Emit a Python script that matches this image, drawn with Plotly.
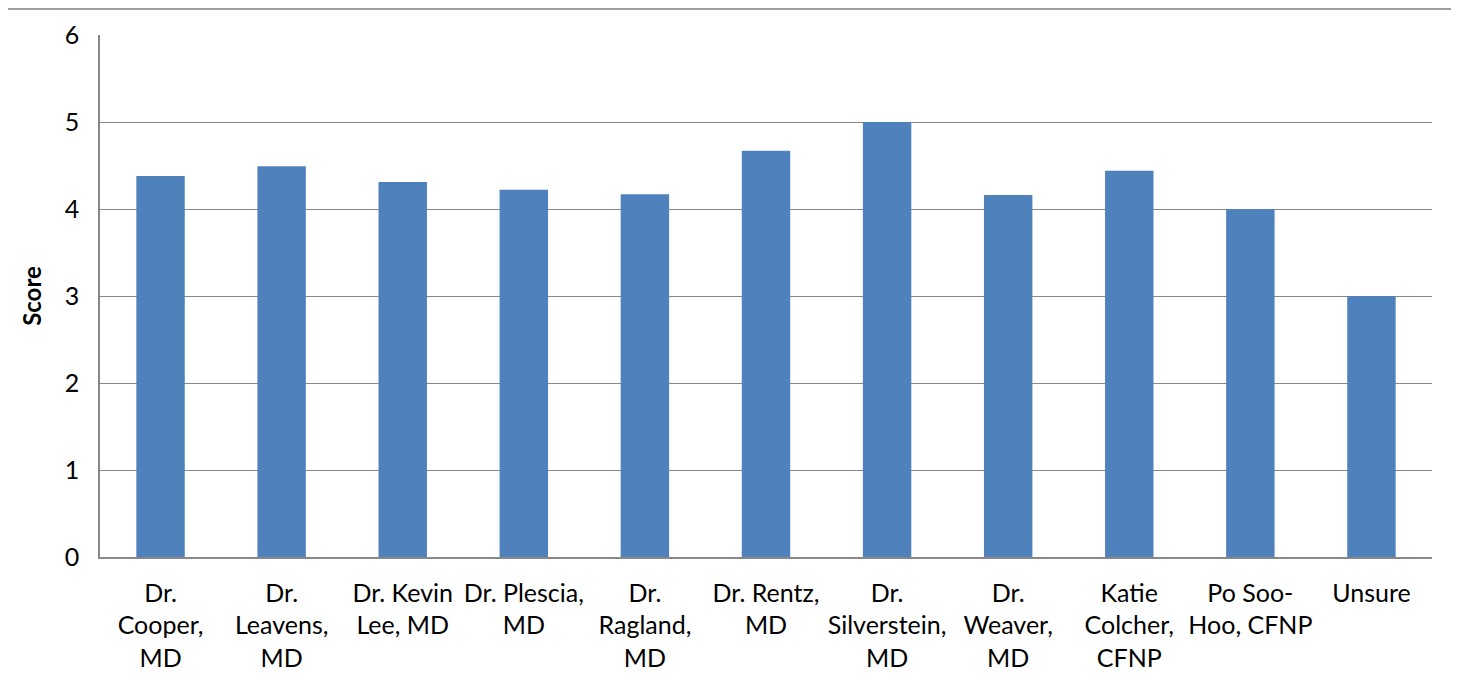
import plotly.graph_objects as go

categories = ["Dr.<br>Cooper,<br>MD", "Dr.<br>Leavens,<br>MD", "Dr. Kevin<br>Lee, MD",
              "Dr. Plescia,<br>MD", "Dr.<br>Ragland,<br>MD", "Dr. Rentz,<br>MD",
              "Dr.<br>Silverstein,<br>MD", "Dr.<br>Weaver,<br>MD", "Katie<br>Colcher,<br>CFNP",
              "Po Soo-<br>Hoo, CFNP", "Unsure"]
scores = [4.38, 4.49, 4.31, 4.22, 4.17, 4.67, 5.0, 4.16, 4.44, 4.0, 3.0]
y_ticks = [0, 1, 2, 3, 4, 5, 6]

# page body has 8px margin
W, H = 1451, 678
ml, mr, mt, mb = 92, 27, 27, 129
pw, ph = W - ml - mr, H - mt - mb

fig = go.Figure(go.Bar(x=categories, y=scores, marker=dict(color="#4F81BD", line=dict(width=0)),
                       hoverinfo="x+y"))

fig.update_layout(
    width=W, height=H,
    margin=dict(l=ml, r=mr, t=mt, b=mb),
    plot_bgcolor="white", paper_bgcolor="white",
    bargap=0.6,
    font=dict(family="Lato, Open Sans, sans-serif", size=25, color="#000000"),
    showlegend=False,
    xaxis=dict(showgrid=False, showline=True, linecolor="#888888", linewidth=1.5,
               ticks="", tickfont=dict(size=25), ticklabelstandoff=13, tickangle=0),
    yaxis=dict(range=[0, 6], tickvals=y_ticks, showgrid=True, gridcolor="#888888", gridwidth=1,
               showline=True, linecolor="#888888", linewidth=1.5, ticks="", zeroline=False,
               tickfont=dict(size=25), ticklabelstandoff=14,
               title=dict(text="<b>Score</b>", font=dict(size=24), standoff=16)),
    shapes=[dict(type="line", xref="paper", yref="paper",
                 x0=-ml / pw, x1=1 + mr / pw, y0=1 + (mt - 1) / ph, y1=1 + (mt - 1) / ph,
                 line=dict(color="#a0a0a0", width=2))],
)

fig.write_html("out.html")
